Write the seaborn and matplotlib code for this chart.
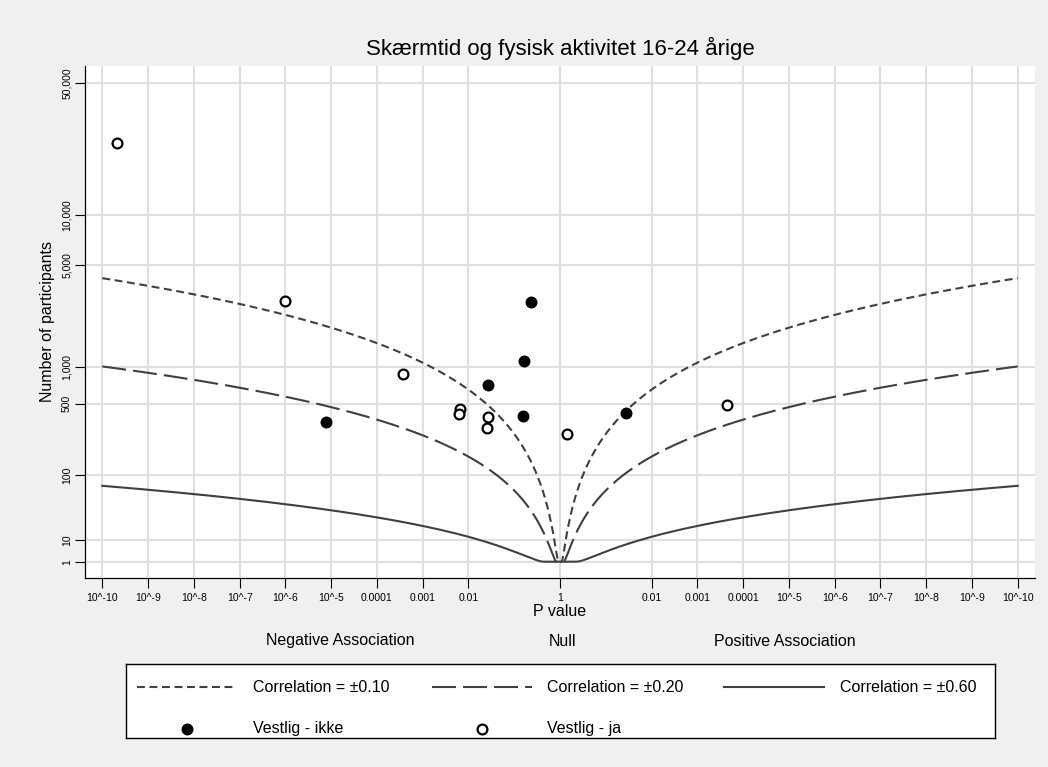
import numpy as np
import seaborn as sns
from matplotlib import pyplot as plt
from statistics import NormalDist

title = "Skærmtid og fysisk aktivitet 16-24 årige"

# Vestlig - ikke (filled)
ikke_p = [0.232, 0.166, 0.027, 0.153, 7.8e-6, 0.037]
ikke_dir = [-1, -1, -1, -1, -1, 1]
ikke_n = [2895, 1105, 717, 394, 346, 414]

# Vestlig - ja (hollow)
ja_p = [2.1e-10, 1.0e-6, 3.7e-4, 0.0066, 0.0063, 0.027, 0.026, 0.71, 2.3e-4]
ja_dir = [-1, -1, -1, -1, -1, -1, -1, 1, 1]
ja_n = [24800, 2940, 882, 449, 408, 386, 307, 267, 489]

correlations = [0.10, 0.20, 0.60]
corr_labels = ["Correlation = \u00b10.10", "Correlation = \u00b10.20", "Correlation = \u00b10.60"]
corr_styles = [(0, (3.8, 2.2)), (0, (11.5, 3.4)), "-"]

p_ticks = [1e-10, 1e-9, 1e-8, 1e-7, 1e-6, 1e-5, 1e-4, 1e-3, 1e-2]
p_tick_labels = ["10^-10", "10^-9", "10^-8", "10^-7", "10^-6", "10^-5", "0.0001", "0.001", "0.01"]
n_ticks = [1, 10, 100, 500, 1000, 5000, 10000, 50000]
n_tick_labels = ["1", "10", "100", "500", "1,000", "5,000", "10,000", "50,000"]


def px(p, d):
    return np.asarray(d) * -np.log10(np.asarray(p, dtype=float))


def ny(n):
    return np.log10(np.asarray(n, dtype=float)) ** 2


plt.rcParams["font.family"] = ["Liberation Sans", "DejaVu Sans"]
W, H = 1048, 767
fig = plt.figure(figsize=(W / 100, H / 100), dpi=100, facecolor="#f0f0f0")
ax = fig.add_axes([85 / W, 1 - 578 / H, 950 / W, 512 / H])
ax.set_facecolor("white")

line_col = "#404040"
grid_col = "#e0e0e0"

# contour lines
xs = np.linspace(-10, 10, 1601)
pv = 10 ** -np.abs(xs)
z = np.array([-NormalDist().inv_cdf(p / 2) for p in pv])
for r, ls in zip(correlations, corr_styles):
    n = np.clip(z ** 2 * (1 - r ** 2) / r ** 2, 1, None)
    sns.lineplot(x=xs, y=ny(n), ax=ax, color=line_col, lw=1.5, linestyle=ls,
                 estimator=None, sort=False, zorder=2)

sns.scatterplot(x=px(ikke_p, ikke_dir), y=ny(ikke_n), ax=ax, color="black",
                edgecolor="black", linewidth=0, s=74, zorder=4)
sns.scatterplot(x=px(ja_p, ja_dir), y=ny(ja_n), ax=ax, color="white",
                edgecolor="black", linewidth=1.6, s=50, zorder=4)

xt = list(-px(p_ticks, 1)) + [0] + list(px(p_ticks[::-1], 1))
xl = p_tick_labels + ["1"] + p_tick_labels[::-1]
ax.set_xticks(xt)
ax.set_xticklabels(xl, fontsize=7.5)
ax.set_yticks(ny(n_ticks))
ax.set_yticklabels(n_tick_labels, fontsize=7.5, rotation=90, va="center")
ax.set_xlim(-10.378, 10.378)
ax.set_ylim(-0.752, 22.87)
ax.grid(True, color=grid_col, lw=1.5, zorder=0)
ax.set_axisbelow(True)
for s in ["top", "right"]:
    ax.spines[s].set_visible(False)
for s in ["left", "bottom"]:
    ax.spines[s].set_color("black")
    ax.spines[s].set_linewidth(0.9)
ax.tick_params(axis="both", length=7, width=0.8, color="black")
ax.tick_params(axis="x", pad=3.5)
ax.tick_params(axis="y", pad=2.5)
ax.set_xlabel("")
ax.set_ylabel("")

fig.text(560 / W, 1 - 48 / H, title, ha="center", va="center", fontsize=16)
fig.text(48 / W, 1 - 322 / H, "Number of participants", rotation=90,
         ha="center", va="center", fontsize=11.5)
fig.text(560 / W, 1 - 612 / H, "P value", ha="center", va="center", fontsize=11.5)
for x, t in [(340, "Negative Association"), (563, "Null"), (785, "Positive Association")]:
    fig.text(x / W, 1 - 641 / H, t, ha="center", va="center", fontsize=11.5)

# legend box
lg = fig.add_axes([126 / W, 1 - 738 / H, 869 / W, 74 / H])
lg.set_xlim(126, 995)
lg.set_ylim(738, 664)
lg.set_xticks([])
lg.set_yticks([])
lg.set_facecolor("white")
for s in lg.spines.values():
    s.set_color("black")
    s.set_linewidth(1)
key_x = [137, 432, 724]
label_x = [253, 547, 840]
for kx, lx, ls, lab in zip(key_x, label_x, corr_styles, corr_labels):
    lg.plot([kx, kx + 100], [687, 687], color=line_col, lw=1.5, linestyle=ls)
    lg.text(lx, 687, lab, va="center", ha="left", fontsize=11.5)
lg.scatter([key_x[0] + 50], [729], s=74, color="black", linewidth=0)
lg.scatter([key_x[1] + 50], [729], s=50, color="white", edgecolor="black", linewidth=1.6)
lg.text(label_x[0], 728, "Vestlig - ikke", va="center", ha="left", fontsize=11.5)
lg.text(label_x[1], 728, "Vestlig - ja", va="center", ha="left", fontsize=11.5)

fig.savefig("out.png", dpi=100, facecolor=fig.get_facecolor())
